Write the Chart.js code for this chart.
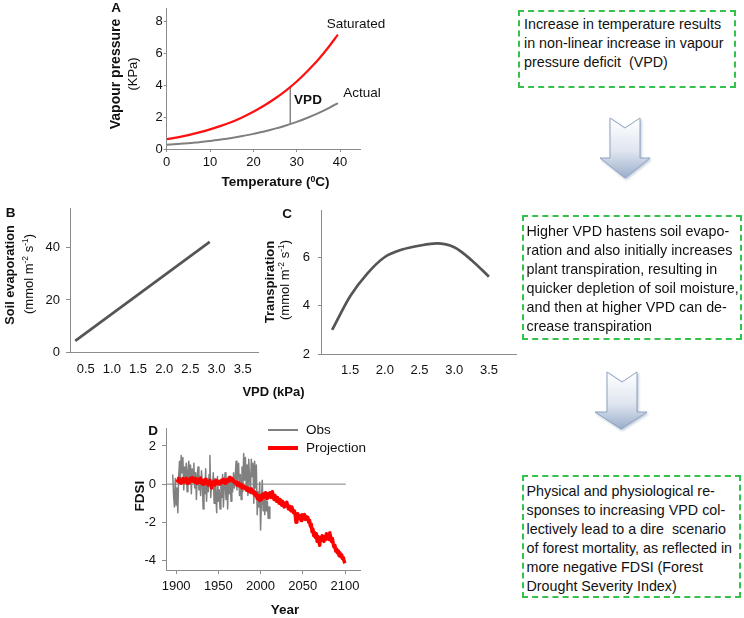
<!DOCTYPE html>
<html><head><meta charset="utf-8">
<script src="https://cdn.jsdelivr.net/npm/chart.js@4.4.1/dist/chart.umd.min.js"></script>
<style>
html,body{margin:0;padding:0;background:#fff;}
body{width:744px;height:618px;position:relative;overflow:hidden;font-family:'Liberation Sans',Arial,sans-serif;color:#111;}
canvas{position:absolute;}
.t{position:absolute;white-space:nowrap;line-height:1;}
.b{font-weight:bold;}
.rot{transform:translate(-50%,-50%) rotate(-90deg);}
.ctr{transform:translate(-50%,-50%);}
.lft{transform:translate(0,-50%);}
.box{position:absolute;border:2px dashed #36c04c;font-size:14.3px;line-height:19px;white-space:nowrap;box-sizing:border-box;color:#111;}
sup{font-size:65%;vertical-align:0.5em;line-height:0;}
.leg{position:absolute;}
</style></head><body>

<canvas id="cA" width="290" height="195" style="left:90px;top:0px"></canvas>
<canvas id="cB" width="270" height="200" style="left:0px;top:195px"></canvas>
<canvas id="cC" width="280" height="200" style="left:250px;top:195px"></canvas>
<canvas id="cD" width="270" height="203" style="left:100px;top:415px"></canvas>

<!-- Panel A text -->
<div class="t b ctr" style="left:116px;top:8px;font-size:13.5px">A</div>
<div class="t b rot" style="left:115px;top:74px;font-size:14px">Vapour pressure</div>
<div class="t rot" style="left:132px;top:74px;font-size:13px">(KPa)</div>
<div class="t b ctr" style="left:275.5px;top:182px;font-size:13.5px">Temperature (<sup>0</sup>C)</div>
<div class="t ctr" style="left:356px;top:24px;font-size:13.5px">Saturated</div>
<div class="t ctr" style="left:362px;top:93px;font-size:13.5px">Actual</div>
<div class="t b ctr" style="left:308px;top:100px;font-size:13.5px">VPD</div>

<!-- Panel B / C text -->
<div class="t b ctr" style="left:10.5px;top:213px;font-size:13.5px">B</div>
<div class="t b rot" style="left:10px;top:275px;font-size:12.8px">Soil evaporation</div>
<div class="t rot" style="left:27.5px;top:274px;font-size:13px">(mmol m<sup>-2</sup> s<sup>-1</sup>)</div>
<div class="t b ctr" style="left:287px;top:213.5px;font-size:13.5px">C</div>
<div class="t b rot" style="left:268.7px;top:281.5px;font-size:13px">Transpiration</div>
<div class="t rot" style="left:284px;top:280px;font-size:13px">(mmol m<sup>-2</sup> s<sup>-1</sup>)</div>
<div class="t b ctr" style="left:273.5px;top:391px;font-size:13px">VPD (kPa)</div>

<!-- Panel D text -->
<div class="t b ctr" style="left:153px;top:431px;font-size:13.5px">D</div>
<div class="t b rot" style="left:140px;top:496px;font-size:13.5px">FDSI</div>
<div class="t b ctr" style="left:285px;top:610px;font-size:13.5px">Year</div>
<div class="leg" style="left:268px;top:429.3px;width:30px;height:1.5px;background:#808080"></div>
<div class="t lft" style="left:306px;top:430px;font-size:13.5px">Obs</div>
<div class="leg" style="left:268px;top:446.3px;width:30px;height:4px;background:#ff0000"></div>
<div class="t lft" style="left:306px;top:448px;font-size:13.5px">Projection</div>

<!-- Text boxes -->
<div class="box" style="left:518px;top:10px;width:218px;height:78px;padding:2.5px 0 0 4px">Increase in temperature results<br>in non-linear increase in vapour<br>pressure deficit&nbsp; (VPD)</div>
<div class="box" style="left:522px;top:215px;width:220px;height:125px;padding:5px 0 0 2.5px">Higher VPD hastens soil evapo-<br>ration and also initially increases<br>plant transpiration, resulting in<br>quicker depletion of soil moisture,<br>and then at higher VPD can de-<br>crease transpiration</div>
<div class="box" style="left:522px;top:475px;width:219px;height:123px;padding:5px 0 0 2.5px">Physical and physiological re-<br>sponses to increasing VPD col-<br>lectively lead to a dire&nbsp; scenario<br>of forest mortality, as reflected in<br>more negative FDSI (Forest<br>Drought Severity Index)</div>

<!-- Arrows -->
<svg style="position:absolute;left:590px;top:112px" width="72" height="76">
<defs>
<linearGradient id="ag1" x1="0" y1="0" x2="0" y2="1"><stop offset="0" stop-color="#ffffff"/><stop offset="0.55" stop-color="#dfe6f0"/><stop offset="1" stop-color="#9aaecb"/></linearGradient>
<filter id="sh1" x="-20%" y="-20%" width="150%" height="150%"><feDropShadow dx="1.2" dy="1.5" stdDeviation="0.8" flood-color="#6a82a6" flood-opacity="0.45"/></filter>
</defs>
<polygon points="20,6 35,16 50,6 50,46 60,46 35,66 10,46 20,46" fill="url(#ag1)" stroke="#8ea2c0" stroke-width="1" filter="url(#sh1)"/>
</svg>
<svg style="position:absolute;left:585px;top:366px" width="72" height="76">
<defs>
<linearGradient id="ag2" x1="0" y1="0" x2="0" y2="1"><stop offset="0" stop-color="#ffffff"/><stop offset="0.55" stop-color="#dfe6f0"/><stop offset="1" stop-color="#9aaecb"/></linearGradient>
<filter id="sh2" x="-20%" y="-20%" width="150%" height="150%"><feDropShadow dx="1.2" dy="1.5" stdDeviation="0.8" flood-color="#6a82a6" flood-opacity="0.45"/></filter>
</defs>
<polygon points="22,6 37,16 52,6 52,46 62,46 36,63 10,46 22,46" fill="url(#ag2)" stroke="#8ea2c0" stroke-width="1" filter="url(#sh2)"/>
</svg>

<script>
// ---------- Panel A data ----------
const tempC  = [0, 2.5, 5, 7.5, 10, 12.5, 15, 17.5, 20, 22.5, 25, 27.5, 30, 32.5, 35, 37.5, 39.5];
const satVP  = [0.61, 0.73, 0.87, 1.04, 1.23, 1.45, 1.70, 2.00, 2.34, 2.73, 3.17, 3.67, 4.24, 4.90, 5.62, 6.45, 7.18];
const actVP  = [0.27, 0.31, 0.36, 0.43, 0.50, 0.59, 0.69, 0.81, 0.95, 1.10, 1.28, 1.48, 1.70, 1.96, 2.25, 2.58, 2.88];
const vpdMarkT = [28.5, 28.5];
const vpdMarkP = [1.56, 3.88];
const aXTicks = [0, 10, 20, 30, 40];
const aYTicks = [0, 2, 4, 6, 8];

// ---------- Panel B data ----------
const vpdB = [0.3, 2.87];
const soilEvap = [4.3, 42.3];
const bXTicks = [0.5, 1.0, 1.5, 2.0, 2.5, 3.0, 3.5];
const bYTicks = [0, 20, 40];

// ---------- Panel C data ----------
const vpdC = [1.24, 1.5, 1.75, 2.0, 2.25, 2.5, 2.75, 3.0, 3.25, 3.5];
const transp = [3.0, 4.39, 5.33, 6.0, 6.31, 6.47, 6.56, 6.40, 5.87, 5.19];
const cXTicks = [1.5, 2.0, 2.5, 3.0, 3.5];
const cYTicks = [2, 4, 6];

// ---------- Panel D data ----------
const obsStartYear = 1896;
const obsFDSI = [
  0.5, -0.6, -1.2, 0.3, -1.1, -0.2, -1.5, 0.4, 1.2, 0.1,
  1.5, 0.6, 1.4, -0.3, 0.9, 0.2, 1.1, -0.4, 0.7, 1.2,
  0.0, 1.0, -0.5, 0.8, 0.3, 1.1, -0.2, 0.6, -0.8, 0.5,
  0.9, -0.3, 0.4, -0.6, 0.7, 0.1, -1.3, 0.2, -0.5, 0.8,
  -0.9, 0.3, -0.4, 0.5, 1.5, -0.7, 0.1, -0.2, 0.6, -1.0,
  0.3, -0.6, -1.5, 0.4, -0.9, -0.3, -1.3, 0.2, -0.7, 0.5,
  -1.2, -0.1, 0.6, -0.8, 0.2, -1.3, 0.4, -0.5, 0.3, -0.9,
  0.1, -0.4, 0.6, -0.2, 0.4, 1.2, -0.3, 0.8, 1.1, -0.6,
  0.5, -0.8, 0.9, -0.4, 1.6, 0.2, 1.4, -0.1, 1.0, -0.6,
  1.3, 0.3, -0.5, 1.3, 0.4, 1.1, -1.0, 1.2, -0.2, 1.0,
  -1.6, -0.4, -1.2, 0.1, -2.4, -0.9, 0.2, -1.4, -0.5, -1.6,
  -0.7, -1.4, -0.9, -1.8, -1.2, -1.8
];
const projStartYear = 1901;
const projFDSI = [
  0.25, 0.15, 0.30, 0.10, 0.20, 0.05, 0.25, 0.30, 0.10, 0.20,
  0.15, 0.30, 0.05, 0.20, 0.25, 0.10, 0.30, 0.20, 0.35, 0.15,
  0.20, 0.10, 0.30, 0.15, 0.05, 0.25, 0.10, 0.20, 0.30, 0.05,
  0.15, 0.00, 0.20, 0.10, 0.25, 0.05, 0.15, -0.05, 0.10, 0.20,
  0.05, -0.20, 0.10, 0.00, 0.15, -0.05, 0.10, 0.20, 0.05, 0.10,
  0.00, 0.15, 0.05, 0.20, 0.10, 0.25, 0.15, 0.05, 0.20, 0.10,
  0.25, 0.15, 0.30, 0.35, 0.20, 0.30, 0.15, 0.20, 0.10, 0.05,
  0.10, -0.05, 0.00, 0.05, -0.10, 0.00, -0.15, -0.05, -0.20, -0.10,
  -0.20, -0.15, -0.30, -0.20, -0.35, -0.25, -0.40, -0.30, -0.25, -0.45,
  -0.35, -0.50, -0.40, -0.60, -0.50, -0.75, -0.60, -0.70, -0.85, -0.65,
  -0.80, -0.55, -0.70, -0.50, -0.65, -0.45, -0.60, -0.75, -0.50, -0.60,
  -0.45, -0.70, -0.55, -0.40, -0.65, -0.80, -0.60, -0.75, -0.90, -0.70,
  -0.85, -1.00, -0.80, -0.95, -1.10, -0.90, -1.05, -1.20, -1.00, -1.15,
  -0.95, -1.10, -1.30, -1.15, -1.25, -1.40, -1.20, -1.35, -1.50, -1.40,
  -1.60, -2.00, -1.70, -1.55, -1.80, -1.65, -1.75, -1.90, -1.60, -1.70,
  -1.70, -1.60, -1.85, -1.70, -1.80, -1.75, -2.00, -1.90, -2.20, -2.10,
  -2.50, -2.35, -2.70, -2.55, -2.80, -2.60, -3.00, -2.75, -2.90, -3.20,
  -2.80, -2.95, -2.70, -2.85, -3.00, -2.75, -2.90, -2.60, -2.85, -2.70,
  -2.90, -2.55, -2.80, -3.00, -2.85, -3.10, -3.30, -3.20, -3.50, -3.40,
  -3.60, -3.50, -3.75, -3.60, -3.80, -3.70, -3.90, -3.85, -4.05, -4.15
];
const zeroLineYears = [1888, 2101];
const zeroLineVals = [0, 0];
const dXTicks = [1900, 1950, 2000, 2050, 2100];
const dYTicks = [-4, -2, 0, 2];

// ---------- helpers ----------
Chart.defaults.font.family = "'Liberation Sans', Arial, sans-serif";
Chart.defaults.font.size = 13;
Chart.defaults.color = '#111';
const AXIS = '#8c8c8c';

function axis(o) {
  return {
    type: 'linear', min: o.min, max: o.max,
    afterBuildTicks: s => { s.ticks = o.ticks.map(v => ({ value: v })); },
    afterFit: s => { if (o.w != null) s.width = o.w; if (o.h != null) s.height = o.h; },
    grid: { display: true, drawOnChartArea: false, drawTicks: o.tl > 0, tickLength: o.tl || 0, color: AXIS, lineWidth: 1 },
    border: { display: true, color: AXIS, width: 1 },
    ticks: { padding: o.pad, autoSkip: false, maxRotation: 0, minRotation: 0, color: '#111',
             font: { size: o.fs || 13 }, callback: o.fmt || (v => String(v)) }
  };
}
function ds(xs, ys, color, width, extra) {
  return Object.assign({
    data: xs.map((x, i) => ({ x: x, y: ys[i] })),
    borderColor: color, backgroundColor: color, borderWidth: width,
    pointRadius: 0, fill: false, tension: 0, borderJoinStyle: 'round', borderCapStyle: 'butt'
  }, extra || {});
}
function make(id, datasets, xo, yo, pad) {
  return new Chart(document.getElementById(id), {
    type: 'line',
    data: { datasets: datasets },
    options: {
      responsive: false, animation: false, events: [],
      layout: { padding: pad },
      plugins: { legend: { display: false }, tooltip: { enabled: false } },
      scales: { x: axis(xo), y: axis(yo) }
    }
  });
}
const fmt1 = v => Number(v).toFixed(1);

// Panel A
make('cA', [
  ds(tempC, satVP, '#ff1010', 2.2, { cubicInterpolationMode: 'monotone' }),
  ds(tempC, actVP, '#7f7f7f', 2.0, { cubicInterpolationMode: 'monotone' }),
  ds(vpdMarkT, vpdMarkP, '#6a6a6a', 1.2)
], { min: 0, max: 44.6, ticks: aXTicks, h: 46, tl: 3, pad: 3 },
   { min: 0, max: 8.8, ticks: aYTicks, w: 76.7, tl: 3, pad: 1 },
   { top: 3.8, right: 20, left: 0, bottom: 0 });

// Panel B
make('cB', [
  ds(vpdB, soilEvap, '#555555', 2.7)
], { min: 0.2, max: 3.8, ticks: bXTicks, h: 43, tl: 0, pad: 10, fmt: fmt1 },
   { min: 0, max: 55, ticks: bYTicks, w: 70, tl: 4, pad: 6 },
   { top: 12.2, right: 11.6, left: 0, bottom: 0 });

// Panel C
make('cC', [
  ds(vpdC, transp, '#555555', 2.7, { cubicInterpolationMode: 'monotone' })
], { min: 1.08, max: 3.9, ticks: cXTicks, h: 40.7, tl: 0, pad: 8, fmt: fmt1 },
   { min: 2, max: 7.9, ticks: cYTicks, w: 71, tl: 3, pad: 8 },
   { top: 13.3, right: 13.3, left: 0, bottom: 0 });

// Panel D
const obsYears = obsFDSI.map((_, i) => obsStartYear + i);
const projYears = projFDSI.map((_, i) => projStartYear + i);
make('cD', [
  ds(projYears, projFDSI, '#ff0000', 3.5, { order: 0 }),
  ds(obsYears, obsFDSI, '#808080', 1.5, { order: 1 }),
  ds(zeroLineYears, zeroLineVals, '#808080', 1, { order: 2 })
], { min: 1888, max: 2118, ticks: dXTicks, h: 48, tl: 4, pad: 5 },
   { min: -4.5, max: 2.9, ticks: dYTicks, w: 66, tl: 4, pad: 6 },
   { top: 8.85, right: 9.8, left: 0, bottom: 0 });
</script>
</body></html>
